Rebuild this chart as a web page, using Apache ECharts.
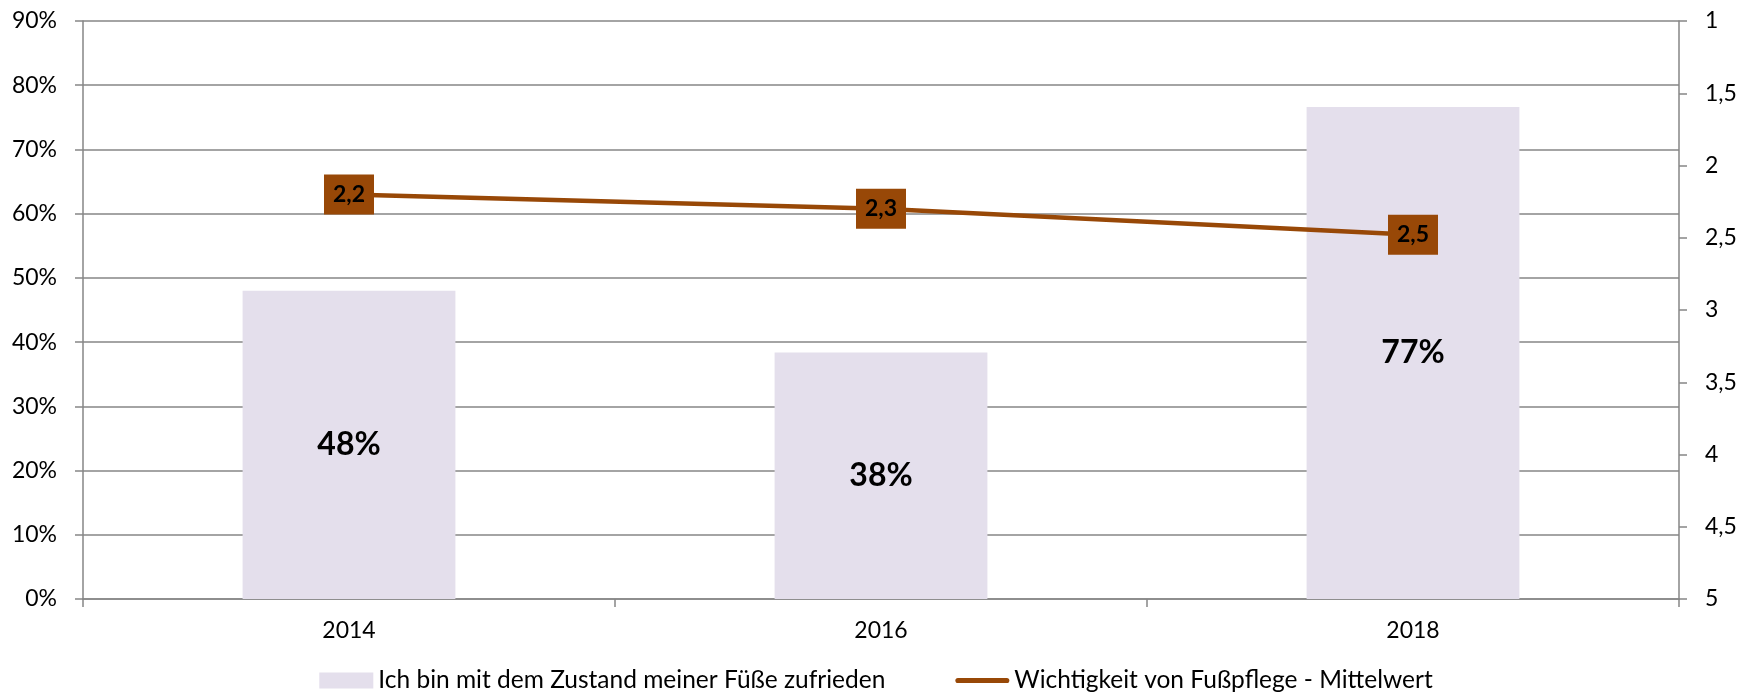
<!DOCTYPE html>
<html>
<head>
<meta charset="utf-8">
<title>Fußpflege</title>
<script src="https://cdn.jsdelivr.net/npm/echarts@6/dist/echarts.min.js"></script>
<style>
  html, body { margin: 0; padding: 0; background: #fff; }
  #chart { width: 1752px; height: 700px; }
</style>
</head>
<body>
<div id="chart"></div>
<script>
// data
var years = ['2014', '2016', '2018']
var zufrieden = [48.0, 38.4, 76.6]           // % Ich bin mit dem Zustand meiner Füße zufrieden
var wichtigkeit = [2.2, 2.3, 2.48]           // Mittelwert (1 = sehr wichtig)
var barName = 'Ich bin mit dem Zustand meiner Füße zufrieden'
var lineName = 'Wichtigkeit von Fußpflege - Mittelwert'

var FONT = 'Lato'
var GRAY = '#868686'
var BROWN = '#984807'

var chart = echarts.init(document.getElementById('chart'))

chart.setOption({
    animation: false,
    textStyle: { fontFamily: FONT },
    grid: { left: 83, right: 73, top: 21, bottom: 101 },
    legend: {
        bottom: 2,
        left: 'center',
        itemWidth: 54,
        itemHeight: 16,
        itemGap: 70,
        textStyle: { fontSize: 24.5, color: '#000', fontFamily: FONT },
        data: [
            { name: barName, icon: 'rect' },
            { name: lineName, icon: 'path://M3,5.5 L51,5.5 A2.5,2.5 0 0 1 51,10.5 L3,10.5 A2.5,2.5 0 0 1 3,5.5 Z' }
        ]
    },
    xAxis: {
        type: 'category',
        data: years,
        axisLine: { lineStyle: { color: GRAY, width: 1.5 } },
        axisTick: { show: true, length: 8, lineStyle: { color: GRAY, width: 1.5 } },
        axisLabel: { color: '#000', fontSize: 23, margin: 20 }
    },
    yAxis: [
        {
            type: 'value',
            min: 0,
            max: 90,
            interval: 10,
            axisLine: { show: true, lineStyle: { color: GRAY, width: 1.5 } },
            axisTick: { show: true, length: 8, lineStyle: { color: GRAY, width: 1.5 } },
            splitLine: { lineStyle: { color: GRAY, width: 1.5 } },
            axisLabel: { color: '#000', fontSize: 23, margin: 26, formatter: '{value}%' }
        },
        {
            type: 'value',
            min: 1,
            max: 5,
            interval: 0.5,
            inverse: true,
            position: 'right',
            axisLine: { show: true, lineStyle: { color: GRAY, width: 1.5 } },
            axisTick: { show: true, length: 8, lineStyle: { color: GRAY, width: 1.5 } },
            splitLine: { show: false },
            axisLabel: {
                color: '#000', fontSize: 23, margin: 26,
                formatter: function (v) { return String(v).replace('.', ',') }
            }
        }
    ],
    series: [
        {
            name: barName,
            type: 'bar',
            data: zufrieden,
            barWidth: '40%',
            itemStyle: { color: '#E4DFEC' },
            label: {
                show: true,
                position: 'inside',
                color: '#000',
                fontSize: 32,
                fontWeight: 'bold',
                fontFamily: FONT,
                formatter: function (p) { return Math.round(p.value) + '%' }
            }
        },
        {
            name: lineName,
            type: 'line',
            yAxisIndex: 1,
            data: wichtigkeit,
            symbol: 'rect',
            symbolSize: [50, 40],
            lineStyle: { color: BROWN, width: 4.5 },
            itemStyle: { color: BROWN },
            label: {
                show: true,
                position: 'inside',
                color: '#000',
                fontSize: 23,
                fontWeight: 'bold',
                fontFamily: FONT,
                formatter: function (p) { return p.value.toFixed(1).replace('.', ',') }
            }
        }
    ]
})
</script>
</body>
</html>
